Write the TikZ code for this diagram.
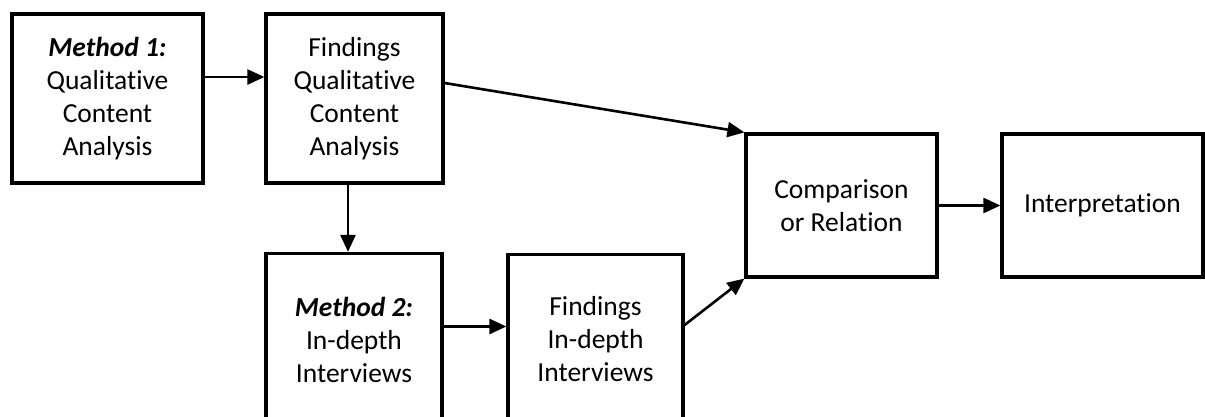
\documentclass[tikz,border=0pt]{standalone}
\usepackage{fontspec}
\setmainfont[Ligatures=NoCommon]{Carlito}
\usetikzlibrary{arrows.meta}
\begin{document}
\begin{tikzpicture}
[
x = 0.5pt, y = -0.5pt,
box/.style = {draw, line width=1.6pt, inner sep=0pt, align=center,
  font=\fontsize{13.75pt}{16.5pt}\selectfont},
flow/.style = {line width=1.3pt, -{Triangle[length=8.5pt, width=7.5pt]}}
]
\useasboundingbox (0,0) rectangle (1205,417);
\node [box, minimum width=95.5pt, minimum height=84.5pt] (meth1) at (107.5,98.5)
    {\textbf{\textit{Method 1:}}\\Qualitative\\Content\\Analysis};
\node [box, minimum width=88.5pt, minimum height=84.5pt] (find1) at (354.5,98.5)
    {Findings\\Qualitative\\Content\\Analysis};
\node [box, minimum width=88pt, minimum height=86pt] (meth2) at (354,339.5)
    {\textbf{\textit{Method 2:}}\\In-depth\\Interviews};
\node [box, minimum width=87.5pt, minimum height=85pt] (find2) at (595.5,339.5)
    {Findings\\In-depth\\Interviews};
\node [box, minimum width=95.5pt, minimum height=71.5pt] (comp) at (841.5,205.5)
    {Comparison\\or Relation};
\node [box, minimum width=100.5pt, minimum height=71.5pt] (interp) at (1102.5,205.5)
    {Interpretation};
\draw [flow] ([yshift=10.75pt]meth1.east) -- ([yshift=10.75pt]find1.west);
\draw [flow] ([xshift=-3.25pt]find1.south) -- ([xshift=-3pt]meth2.north);
\draw [flow] ([yshift=7.75pt]find1.east) -- (comp.north west);
\draw [flow] ([yshift=6.5pt]meth2.east) -- ([yshift=6.5pt]find2.west);
\draw [flow] ([yshift=7.25pt]find2.east) -- (comp.south west);
\draw [flow] (comp.east) -- (interp.west);
\end{tikzpicture}
\end{document}
